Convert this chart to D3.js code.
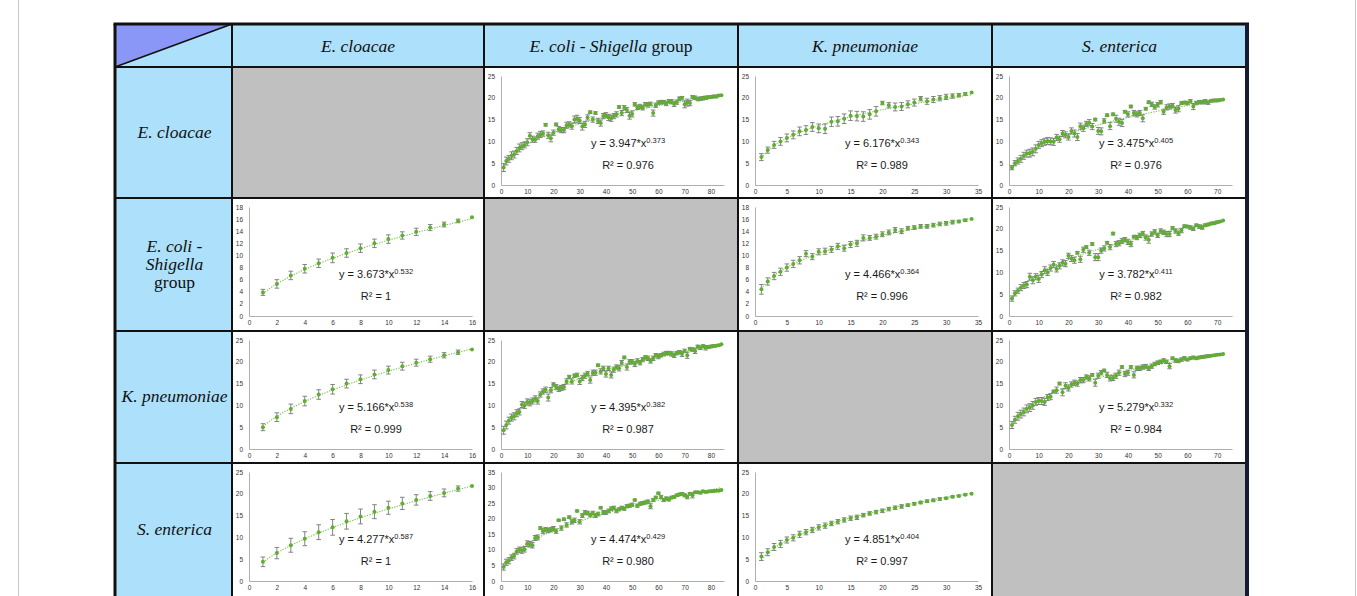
<!DOCTYPE html>
<html>
<head>
<meta charset="utf-8">
<script src="https://cdn.jsdelivr.net/npm/d3@7"></script>
<style>
  body { margin: 0; background: #fff; }
  svg { display: block; }
</style>
</head>
<body>
<div id="mydata"></div>
<script>
// species in the header row / header column
var species = ["E. cloacae", "E. coli - Shigella group", "K. pneumoniae", "S. enterica"];

// x ranges for each column (number of genomes)
var colXMax = [16, 85, 35, 75];
var colXStep = [2, 10, 5, 10];

// ---- row E. cloacae ----
var y_cl_ec = [4.0,5.5,6.0,6.7,7.0,7.8,8.5,8.9,9.2,9.8, 11.3,10.5,10.4,11.2,11.6,11.8,13.8,11.4,10.7,12.0,
  13.9,12.8,12.6,12.6,13.7,13.9,13.5,15.0,15.2,14.8, 13.4,13.9,15.5,16.7,15.0,16.5,14.7,14.2,15.8,16.0,
  15.5,15.3,15.8,16.2,17.9,16.5,17.7,17.2,15.9,16.3, 18.5,17.8,18.0,17.7,18.5,18.4,18.6,16.5,18.3,18.9,
  19.0,19.0,18.7,19.2,19.1,18.6,19.0,19.8,20.0,18.5, 18.9,18.8,20.2,20.0,19.7,19.8,19.9,20.0,20.1,20.2,
  20.3,20.3,20.5,20.6];
var e_cl_ec = [0.9,0.9,0.8,0.9,0.8,0.8,0.9,0.8,0.7,0.8, 0.7,0.7,0.6,0.7,0.7,0.6,0.3,0.7,0.8,0.6,
  0.3,0.6,0.6,0.6,0.7,0.6,0.7,0.8,0.8,0.7, 0.8,0.7,0.6,0.3,0.6,0.3,0.6,0.7,0.6,0.6,
  0.7,0.7,0.6,0.6,0.3,0.6,0.5,0.6,0.8,0.7, 0.4,0.5,0.5,0.5,0.4,0.5,0.4,0.7,0.5,0.4,
  0.4,0.4,0.5,0.4,0.5,0.6,0.5,0.4,0.3,0.8, 0.8,0.6,0.3,0.4,0.4,0.4,0.4,0.4,0.3,0.3,
  0.3,0.3,0.2,0];
var y_cl_kp = [6.4,8.0,9.2,10.0,10.8,11.5,12.3,12.6,13.3,13.0, 12.9,14.5,14.6,15.2,15.9,15.8,15.7,16.2,16.9,18.8,
  18.3,17.9,18.0,18.5,18.9,19.8,19.2,19.6,19.9,20.2, 20.4,20.6,20.9,21.2];
var e_cl_kp = [0.8,0.7,0.8,0.9,0.9,0.9,1.0,1.0,1.0,1.0, 1.1,1.1,1.1,1.1,1.1,1.1,1.1,1.1,1.1,0.4,
  0.6,0.9,0.9,0.8,0.8,0.5,0.7,0.7,0.6,0.6, 0.5,0.4,0.3,0];
var y_cl_se = [4.0,5.0,5.5,6.0,6.7,7.2,7.3,7.6,8.3,9.2, 9.6,9.9,10.1,10.0,9.9,10.9,10.5,11.8,11.5,11.0,
  12.4,11.8,11.0,13.5,13.0,14.0,14.3,13.4,15.0,12.4, 12.3,14.7,16.0,13.5,16.2,15.2,14.5,14.2,16.8,16.2,
  18.0,16.5,16.2,16.5,15.3,17.5,19.0,18.5,17.9,18.4, 19.0,16.8,17.8,18.0,18.2,17.2,17.5,18.8,18.9,18.8,
  19.2,18.0,18.8,19.0,19.0,19.1,18.9,19.3,19.4,19.4, 19.5,19.6];
var e_cl_se = [0.5,0.6,0.7,0.8,0.8,0.8,0.9,0.9,0.9,0.8, 0.8,0.8,0.8,0.8,0.8,0.7,0.7,0.7,0.7,0.7,
  0.7,0.8,0.8,0.7,0.7,0.6,0.7,0.7,0.3,0.8, 0.8,0.5,0.3,0.8,0.3,0.8,0.8,0.8,0.3,0.6,
  0.3,0.6,0.6,0.6,0.8,0.3,0.3,0.5,0.5,0.5, 0.4,0.6,0.6,0.6,0.5,0.7,0.7,0.3,0.3,0.4,
  0.4,0.7,0.4,0.4,0.4,0.5,0.4,0.3,0.3,0.3, 0.2,0];

// ---- row E. coli - Shigella ----
var y_ec_cl = [3.9,5.3,6.7,7.8,8.7,9.6,10.4,11.2,12.0,12.7, 13.3,13.9,14.6,15.1,15.7,16.3];
var e_ec_cl = [0.5,0.7,0.7,0.7,0.7,0.8,0.7,0.7,0.7,0.7, 0.6,0.6,0.5,0.4,0.3,0];
var y_ec_kp = [4.4,5.7,6.6,7.3,8.0,8.6,9.2,10.3,9.8,10.6, 10.7,11.0,11.5,11.2,11.8,12.0,12.9,12.9,13.1,13.5,
  13.8,14.2,14.0,14.5,14.6,14.8,14.8,15.0,15.2,15.3, 15.5,15.6,15.8,16.0];
var e_ec_kp = [0.8,0.6,0.6,0.6,0.6,0.6,0.6,0.5,0.5,0.5, 0.5,0.5,0.5,0.5,0.5,0.5,0.5,0.4,0.4,0.4,
  0.4,0.4,0.4,0.3,0.3,0.3,0.3,0.3,0.3,0.3, 0.3,0.2,0.2,0];
var y_ec_se = [4.0,5.2,5.8,6.5,7.0,7.2,9.0,8.2,9.0,8.5, 9.5,10.5,10.0,11.0,11.8,10.8,11.5,12.2,12.0,13.8,
  13.2,12.8,14.5,13.0,15.2,15.8,14.5,16.5,13.5,13.5, 15.0,15.5,16.8,15.8,18.9,16.5,16.7,17.2,17.5,17.0,
  16.5,18.2,18.0,18.5,18.9,18.0,17.5,18.8,19.3,18.5, 19.5,19.2,18.8,18.8,20.2,19.5,19.0,19.6,20.6,20.5,
  20.3,20.0,20.8,20.5,20.3,20.8,21.0,21.2,21.3,21.5, 21.7,21.9];
var e_ec_se = [0.6,0.6,0.6,0.7,0.7,0.7,0.8,0.8,0.7,0.8, 0.7,0.8,0.7,0.7,0.7,0.7,0.7,0.7,0.7,0.6,
  0.7,0.7,0.3,0.7,0.6,0.3,0.6,0.3,0.8,0.8, 0.6,0.6,0.3,0.6,0.3,0.6,0.6,0.6,0.5,0.6,
  0.6,0.3,0.5,0.5,0.5,0.6,0.8,0.5,0.5,0.5, 0.5,0.5,0.6,0.6,0.3,0.5,0.5,0.5,0.3,0.3,
  0.4,0.4,0.3,0.4,0.4,0.3,0.3,0.3,0.3,0.3, 0.2,0];

// ---- row K. pneumoniae ----
var y_kp_cl = [5.0,7.3,9.2,11.0,12.5,13.7,15.0,16.0,17.1,18.1, 19.0,19.8,20.6,21.5,22.2,22.8];
var e_kp_cl = [0.8,1.0,1.1,1.1,1.1,1.1,1.0,1.0,1.0,0.9, 0.9,0.8,0.7,0.6,0.5,0];
var y_kp_ec = [4.3,5.5,6.5,7.2,7.5,8.2,8.5,10.2,10.0,10.8, 10.6,11.0,11.5,11.0,12.5,13.2,13.6,11.8,13.5,14.8,
  14.2,13.8,14.0,14.2,15.5,16.5,15.5,16.8,17.0,15.5, 16.3,16.8,17.3,15.8,17.5,17.5,19.2,17.8,18.5,17.2,
  18.5,17.0,18.2,18.8,18.5,19.8,21.0,18.8,20.0,20.0, 19.5,20.2,19.8,20.5,21.0,20.8,20.2,20.8,21.5,21.2,
  21.5,21.8,22.0,22.0,21.8,21.5,22.0,22.2,21.8,22.5, 21.5,23.0,22.8,22.5,23.5,23.2,23.6,23.2,23.4,23.5,
  23.6,23.7,23.8,24.0];
var e_kp_ec = [0.9,0.9,0.8,0.8,0.8,0.8,0.7,0.7,0.7,0.7, 0.7,0.7,0.7,0.7,0.6,0.6,0.6,0.8,0.6,0.4,
  0.6,0.6,0.6,0.6,0.6,0.4,0.6,0.4,0.4,0.7, 0.6,0.6,0.5,0.7,0.6,0.6,0.3,0.6,0.5,0.7,
  0.5,0.7,0.6,0.5,0.6,0.5,0.3,0.7,0.5,0.5, 0.6,0.5,0.5,0.5,0.4,0.5,0.5,0.5,0.4,0.5,
  0.4,0.4,0.4,0.4,0.5,0.5,0.4,0.4,0.6,0.4, 0.7,0.3,0.4,0.6,0.3,0.4,0.3,0.5,0.3,0.3,
  0.3,0.2,0.2,0];
var y_kp_se = [5.5,6.7,7.5,8.0,8.5,9.2,9.5,10.0,10.8,11.0, 11.0,10.8,11.8,12.0,13.2,13.5,15.0,13.0,14.5,14.0,
  14.8,15.2,15.0,15.8,15.8,16.5,16.2,17.0,15.2,16.8, 17.5,18.0,17.0,16.2,16.3,16.8,17.5,18.8,17.2,17.5,
  18.8,17.0,18.5,18.5,18.8,18.9,18.5,19.0,19.5,19.8, 20.0,20.3,20.0,19.0,20.8,20.3,20.2,20.5,20.8,20.5,
  20.8,21.0,20.8,21.0,21.1,21.2,21.3,21.4,21.5,21.6, 21.7,21.8];
var e_kp_se = [0.8,0.8,0.9,0.9,0.9,0.9,0.9,0.9,0.8,0.8, 0.8,0.8,0.7,0.7,0.3,0.7,0.3,0.8,0.7,0.7,
  0.6,0.6,0.6,0.6,0.6,0.5,0.6,0.3,0.8,0.6, 0.5,0.3,0.6,0.6,0.6,0.6,0.6,0.3,0.6,0.6,
  0.3,0.7,0.5,0.5,0.5,0.5,0.5,0.5,0.4,0.4, 0.4,0.4,0.4,0.6,0.3,0.4,0.4,0.4,0.4,0.3,
  0.3,0.3,0.3,0.3,0.3,0.3,0.3,0.2,0.2,0.2, 0.2,0];

// ---- row S. enterica ----
var y_se_cl = [4.4,6.4,8.2,9.7,11.2,12.3,13.7,14.8,15.9,16.8, 17.8,18.6,19.5,20.2,21.2,21.8];
var e_se_cl = [1.1,1.3,1.6,1.6,1.7,1.8,1.8,1.7,1.6,1.5, 1.4,1.2,1.0,0.9,0.6,0];
var y_se_ec = [4.5,6.0,6.5,7.5,8.0,9.5,10.0,9.8,10.2,12.0, 11.8,11.5,13.8,14.0,17.0,16.0,16.5,16.2,16.5,16.8,
  16.0,19.5,17.0,19.8,18.0,20.5,19.0,19.5,22.5,19.0, 21.0,22.0,21.8,21.2,21.8,21.0,21.5,23.5,22.0,22.0,
  22.5,23.2,23.5,22.5,23.0,23.5,23.2,24.0,24.2,24.5, 26.0,24.2,24.8,25.0,25.2,25.5,24.0,26.0,26.8,28.2,
  27.0,26.0,26.5,26.2,26.8,27.0,27.5,27.8,28.0,27.5, 27.0,28.0,27.5,28.5,28.5,28.3,28.8,28.6,28.7,28.8,
  28.9,29.0,29.0,29.2];
var e_se_ec = [1.0,1.0,1.0,0.9,0.9,0.9,0.9,0.9,0.9,0.9, 0.9,0.9,0.8,0.8,0.4,0.8,0.7,0.7,0.7,0.7,
  0.7,0.3,0.7,0.4,0.7,0.4,0.7,0.7,0.3,0.7, 0.6,0.6,0.6,0.6,0.6,0.6,0.6,0.3,0.6,0.6,
  0.6,0.6,0.5,0.6,0.5,0.5,0.5,0.5,0.5,0.5, 0.3,0.5,0.5,0.5,0.5,0.5,0.8,0.5,0.4,0.3,
  0.5,0.5,0.5,0.5,0.4,0.4,0.4,0.4,0.4,0.5, 0.6,0.4,0.8,0.3,0.3,0.3,0.3,0.3,0.3,0.3,
  0.3,0.2,0.2,0];
var y_se_kp = [5.6,6.6,7.8,8.5,9.4,9.9,10.7,11.2,11.7,12.3, 12.7,13.2,13.6,14.0,14.4,14.6,15.1,15.5,15.8,16.1,
  16.5,16.8,17.1,17.4,17.7,18.0,18.3,18.5,18.8,19.0, 19.3,19.5,19.8,20.0];
var e_se_kp = [0.9,0.8,0.8,0.8,0.7,0.7,0.7,0.6,0.6,0.6, 0.6,0.5,0.5,0.5,0.5,0.5,0.4,0.4,0.4,0.4,
  0.4,0.4,0.4,0.3,0.3,0.3,0.3,0.3,0.3,0.2, 0.2,0.2,0.2,0];

// power fits shown in each panel: y = a*x^b
var fitA  = [3.947, 6.176, 3.475, 3.673, 4.466, 3.782, 5.166, 4.395, 5.279, 4.277, 4.474, 4.851];
var fitB  = ["0.373", "0.343", "0.405", "0.532", "0.364", "0.411", "0.538", "0.382", "0.332", "0.587", "0.429", "0.404"];
var fitR2 = ["0.976", "0.989", "0.976", "1", "0.996", "0.982", "0.999", "0.987", "0.984", "1", "0.980", "0.997"];
var panelYMax = [25, 25, 25, 18, 18, 25, 25, 25, 25, 25, 35, 25];

// panels: row, column (species index) and data
var panels = [
  {row: 0, col: 1, y: y_cl_ec, e: e_cl_ec}, {row: 0, col: 2, y: y_cl_kp, e: e_cl_kp}, {row: 0, col: 3, y: y_cl_se, e: e_cl_se},
  {row: 1, col: 0, y: y_ec_cl, e: e_ec_cl}, {row: 1, col: 2, y: y_ec_kp, e: e_ec_kp}, {row: 1, col: 3, y: y_ec_se, e: e_ec_se},
  {row: 2, col: 0, y: y_kp_cl, e: e_kp_cl}, {row: 2, col: 1, y: y_kp_ec, e: e_kp_ec}, {row: 2, col: 3, y: y_kp_se, e: e_kp_se},
  {row: 3, col: 0, y: y_se_cl, e: e_se_cl}, {row: 3, col: 1, y: y_se_ec, e: e_se_ec}, {row: 3, col: 2, y: y_se_kp, e: e_se_kp}
];
panels.forEach(function(p, i) { p.a = fitA[i]; p.b = fitB[i]; p.r2 = fitR2[i]; p.yMax = panelYMax[i]; });

// table geometry
var colEdges = [115, 232, 484, 738, 992, 1247];
var rowEdges = [24, 67, 198, 331, 463, 604];

var W = 1357, H = 596;
var svg = d3.select("#mydata").append("svg").attr("width", W).attr("height", H);

var blue = "#ade0fa", grey = "#bfc0bf", green = "#5fae32";
var serif = "'Liberation Serif', 'Times New Roman', serif";
var sans = "'Liberation Sans', Arial, Helvetica, sans-serif";

// page frame lines
svg.append("line").attr("x1", 18.5).attr("x2", 18.5).attr("y1", 0).attr("y2", H).attr("stroke", "#c8c8c8");
svg.append("line").attr("x1", 1355.5).attr("x2", 1355.5).attr("y1", 0).attr("y2", H).attr("stroke", "#c8c8c8");

// header cells
svg.append("rect").attr("x", colEdges[0]).attr("y", rowEdges[0])
  .attr("width", colEdges[1] - colEdges[0]).attr("height", rowEdges[1] - rowEdges[0]).attr("fill", blue);
svg.append("polygon")
  .attr("points", [[colEdges[0], rowEdges[0]], [colEdges[1], rowEdges[0]], [colEdges[0], rowEdges[1]]].join(" "))
  .attr("fill", "#8b97f6");
svg.append("line").attr("x1", colEdges[0]).attr("y1", rowEdges[1]).attr("x2", colEdges[1]).attr("y2", rowEdges[0])
  .attr("stroke", "#111").attr("stroke-width", 1.6);

for (var c = 0; c < 4; c++) {
  svg.append("rect").attr("x", colEdges[c + 1]).attr("y", rowEdges[0])
    .attr("width", colEdges[c + 2] - colEdges[c + 1]).attr("height", rowEdges[1] - rowEdges[0]).attr("fill", blue);
  svg.append("rect").attr("x", colEdges[0]).attr("y", rowEdges[c + 1])
    .attr("width", colEdges[1] - colEdges[0]).attr("height", rowEdges[c + 2] - rowEdges[c + 1]).attr("fill", blue);
  // diagonal cells are empty (grey)
  svg.append("rect").attr("x", colEdges[c + 1]).attr("y", rowEdges[c + 1])
    .attr("width", colEdges[c + 2] - colEdges[c + 1]).attr("height", rowEdges[c + 2] - rowEdges[c + 1]).attr("fill", grey);
}

// column header labels
function speciesText(sel, name) {
  if (name.indexOf("Shigella") >= 0) {
    sel.append("tspan").attr("font-style", "italic").text("E. coli - Shigella");
    sel.append("tspan").attr("font-style", "normal").text(" group");
  } else {
    sel.append("tspan").attr("font-style", "italic").text(name);
  }
}
species.forEach(function(s, i) {
  var t = svg.append("text")
    .attr("x", (colEdges[i + 1] + colEdges[i + 2]) / 2).attr("y", 52)
    .attr("text-anchor", "middle").attr("font-family", serif).attr("font-size", 17.5).attr("fill", "#111");
  speciesText(t, s);
});

// row header labels
species.forEach(function(s, i) {
  var cy = (rowEdges[i + 1] + Math.min(rowEdges[i + 2], 596)) / 2;
  var cx = (colEdges[0] + colEdges[1]) / 2 + 1;
  var t = svg.append("text").attr("text-anchor", "middle")
    .attr("font-family", serif).attr("font-size", 17.5).attr("fill", "#111");
  if (s.indexOf("Shigella") >= 0) {
    t.append("tspan").attr("x", cx).attr("y", cy - 13).attr("font-style", "italic").text("E. coli -");
    t.append("tspan").attr("x", cx).attr("y", cy + 5).attr("font-style", "italic").text("Shigella");
    t.append("tspan").attr("x", cx).attr("y", cy + 23).text("group");
  } else {
    t.attr("x", cx).attr("y", cy + 5).attr("font-style", "italic").text(s);
  }
});

// one small scatter panel per cell
panels.forEach(function(p) {
  var cx = colEdges[p.col + 1], cy = rowEdges[p.row + 1];
  var g = svg.append("g");
  g.append("rect").attr("x", cx).attr("y", cy)
    .attr("width", colEdges[p.col + 2] - cx).attr("height", rowEdges[p.row + 2] - cy).attr("fill", "#fff");

  var xMax = colXMax[p.col];
  var x = d3.scaleLinear().domain([0, xMax]).range([cx + 17, cx + 240]);
  var y = d3.scaleLinear().domain([0, p.yMax]).range([cy + 118, cy + 9]);

  var xAxis = g.append("g").attr("transform", "translate(0," + y(0) + ")")
    .call(d3.axisBottom(x).tickValues(d3.range(0, xMax + 0.1, colXStep[p.col])).tickSize(0).tickPadding(4));
  var yStep = p.yMax === 18 ? 2 : 5;
  var yAxis = g.append("g").attr("transform", "translate(" + x(0) + ",0)")
    .call(d3.axisLeft(y).tickValues(d3.range(0, p.yMax + 0.1, yStep)).tickSize(0).tickPadding(6));
  [xAxis, yAxis].forEach(function(ax) {
    ax.select(".domain").attr("stroke", "#9a9a9a").attr("stroke-width", 0.8);
    ax.selectAll("text").attr("font-family", sans).attr("font-size", 6.5).attr("fill", "#333");
  });

  var pts = p.y.map(function(v, i) { return {x: i + 1, y: v, e: p.e[i] || 0}; });

  // fitted power trend line
  var fx = d3.range(1, pts.length + 0.001, 0.25);
  g.append("path")
    .attr("d", d3.line().x(function(d) { return x(d); }).y(function(d) { return y(p.a * Math.pow(d, +p.b)); })(fx))
    .attr("fill", "none").attr("stroke", "#7fc24f").attr("stroke-width", 1.1).attr("stroke-dasharray", "1.3,1.3");

  // error bars
  var eb = g.append("g").attr("stroke", "#777").attr("stroke-width", 0.9);
  pts.filter(function(d) { return d.e > 0; }).forEach(function(d) {
    eb.append("line").attr("x1", x(d.x)).attr("x2", x(d.x)).attr("y1", y(d.y - d.e)).attr("y2", y(d.y + d.e));
    eb.append("line").attr("x1", x(d.x) - 2.3).attr("x2", x(d.x) + 2.3).attr("y1", y(d.y - d.e)).attr("y2", y(d.y - d.e));
    eb.append("line").attr("x1", x(d.x) - 2.3).attr("x2", x(d.x) + 2.3).attr("y1", y(d.y + d.e)).attr("y2", y(d.y + d.e));
  });

  g.selectAll("circle.pt").data(pts).enter().append("circle")
    .attr("cx", function(d) { return x(d.x); }).attr("cy", function(d) { return y(d.y); })
    .attr("r", 2).attr("fill", green);

  // equation and R2
  var eq = g.append("text").attr("x", cx + 144).attr("y", cy + 80).attr("text-anchor", "middle")
    .attr("font-family", sans).attr("font-size", 11).attr("fill", "#1a1a1a");
  eq.append("tspan").text("y = " + p.a.toFixed(3) + "*x");
  eq.append("tspan").attr("dy", -4).attr("font-size", 7.5).text(p.b);
  g.append("text").attr("x", cx + 144).attr("y", cy + 102).attr("text-anchor", "middle")
    .attr("font-family", sans).attr("font-size", 11).attr("fill", "#1a1a1a")
    .text("R\u00b2 = " + p.r2);
});

// grid lines
var grid = svg.append("g").attr("stroke", "#111").attr("stroke-width", 2);
colEdges.slice(1, 5).forEach(function(cx) {
  grid.append("line").attr("x1", cx).attr("x2", cx).attr("y1", rowEdges[0]).attr("y2", H);
});
rowEdges.slice(1, 5).forEach(function(ry) {
  grid.append("line").attr("x1", colEdges[0]).attr("x2", colEdges[5]).attr("y1", ry).attr("y2", ry);
});
// outer border
svg.append("line").attr("x1", colEdges[0] - 1.5).attr("x2", colEdges[5] + 2).attr("y1", rowEdges[0]).attr("y2", rowEdges[0])
  .attr("stroke", "#111").attr("stroke-width", 3);
svg.append("line").attr("x1", colEdges[0]).attr("x2", colEdges[0]).attr("y1", rowEdges[0]).attr("y2", H)
  .attr("stroke", "#111").attr("stroke-width", 3);
svg.append("line").attr("x1", colEdges[5]).attr("x2", colEdges[5]).attr("y1", rowEdges[0]).attr("y2", H)
  .attr("stroke", "#171a33").attr("stroke-width", 4);
</script>
</body>
</html>
